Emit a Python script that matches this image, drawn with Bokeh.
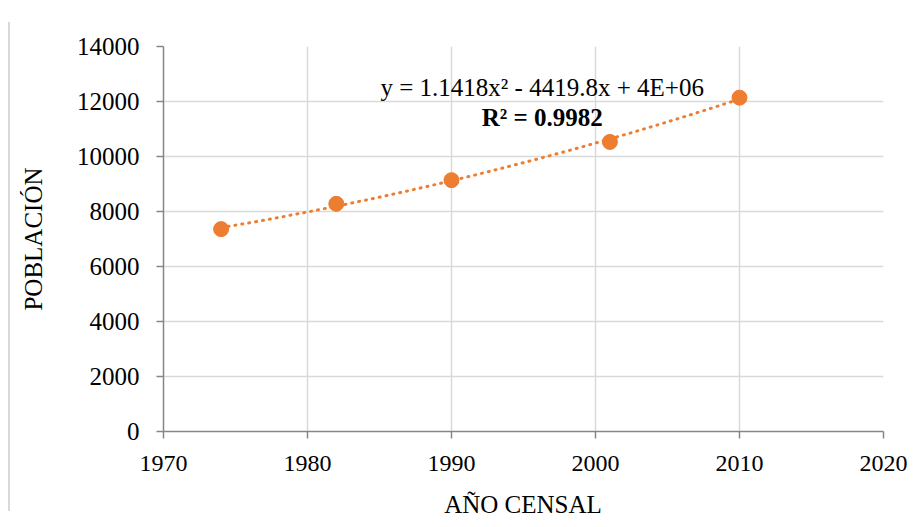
import numpy as np
from bokeh.plotting import figure
from bokeh.models import Label, FixedTicker, Div
from bokeh.layouts import row, column
from bokeh.embed import file_html
from bokeh.resources import INLINE

years = [1974, 1982, 1990, 2001, 2010]
population = [7360, 8280, 9140, 10530, 12140]
x_ticks = [1970, 1980, 1990, 2000, 2010, 2020]
y_ticks = [0, 2000, 4000, 6000, 8000, 10000, 12000, 14000]
x_title = "AÑO CENSAL"
y_title = "POBLACIÓN"
equation_text = "y = 1.1418x² - 4419.8x + 4E+06"
r2_text = "R² = 0.9982"

FONT = "Liberation Serif"
ORANGE = "#ED7D31"

p = figure(width=897, height=488, output_backend="svg", toolbar_location=None,
           x_range=(1970, 2020), y_range=(0, 14000),
           min_border_left=148, min_border_right=29, min_border_top=46, min_border_bottom=57)
p.outline_line_color = None
p.background_fill_color = "white"

for ax in (p.xaxis[0], p.yaxis[0]):
    ax.axis_line_color = "#868686"
    ax.axis_line_width = 1.5
    ax.major_tick_line_color = "#868686"
    ax.major_tick_line_width = 1.5
    ax.minor_tick_line_color = None
    ax.major_label_text_font = FONT
    ax.major_label_text_color = "black"
    ax.axis_label_text_font = FONT
    ax.axis_label_text_font_size = "25px"
    ax.axis_label_text_font_style = "normal"
    ax.axis_label_text_color = "black"
    ax.major_tick_in = 0
    ax.major_tick_out = 7

p.xaxis.major_label_text_font_size = "24px"
p.yaxis.major_label_text_font_size = "25px"
p.xaxis.ticker = FixedTicker(ticks=x_ticks)
p.yaxis.ticker = FixedTicker(ticks=y_ticks)
p.yaxis.axis_label = y_title
p.xaxis.major_label_standoff = 17
p.yaxis.major_label_standoff = 17
p.yaxis.axis_label_standoff = 27

p.xgrid.grid_line_color = "#d9d9d9"
p.ygrid.grid_line_color = "#d9d9d9"
p.xgrid.grid_line_width = 1.5
p.ygrid.grid_line_width = 1.5

# polynomial trendline (order 2) fitted to the data
coef = np.polyfit(years, population, 2)
xs = np.linspace(min(years), max(years), 100)
p.line(xs, np.polyval(coef, xs), line_color=ORANGE, line_width=3,
       line_dash="1 6", line_cap="round")

p.scatter(years, population, size=15, fill_color=ORANGE, line_color=ORANGE)

p.add_layout(Label(x=1996.3, y=12500, text=equation_text, text_align="center",
                   text_baseline="middle", text_font=FONT, text_font_size="25px",
                   text_color="black"))
p.add_layout(Label(x=1996.3, y=11420, text=r2_text, text_align="center",
                   text_baseline="middle", text_font=FONT, text_font_size="25px",
                   text_font_style="bold", text_color="black"))

# x-axis title as real text below the chart
title_div = Div(width=897, height=23,
                text=('<div style="font-family:\'Liberation Serif\'; font-size:25px; '
                      'line-height:23px; text-align:center; padding-left:126px; '
                      'width:880px; box-sizing:border-box; '
                      'color:black; white-space:nowrap;">' + x_title + '</div>'))

border = Div(width=5, height=489, styles={"border-right": "2px solid #d9d9d9",
                                          "margin-top": "22px", "box-sizing": "border-box"})
layout = row(border, column(p, title_div))

open("out.html", "w").write(file_html(layout, INLINE))
